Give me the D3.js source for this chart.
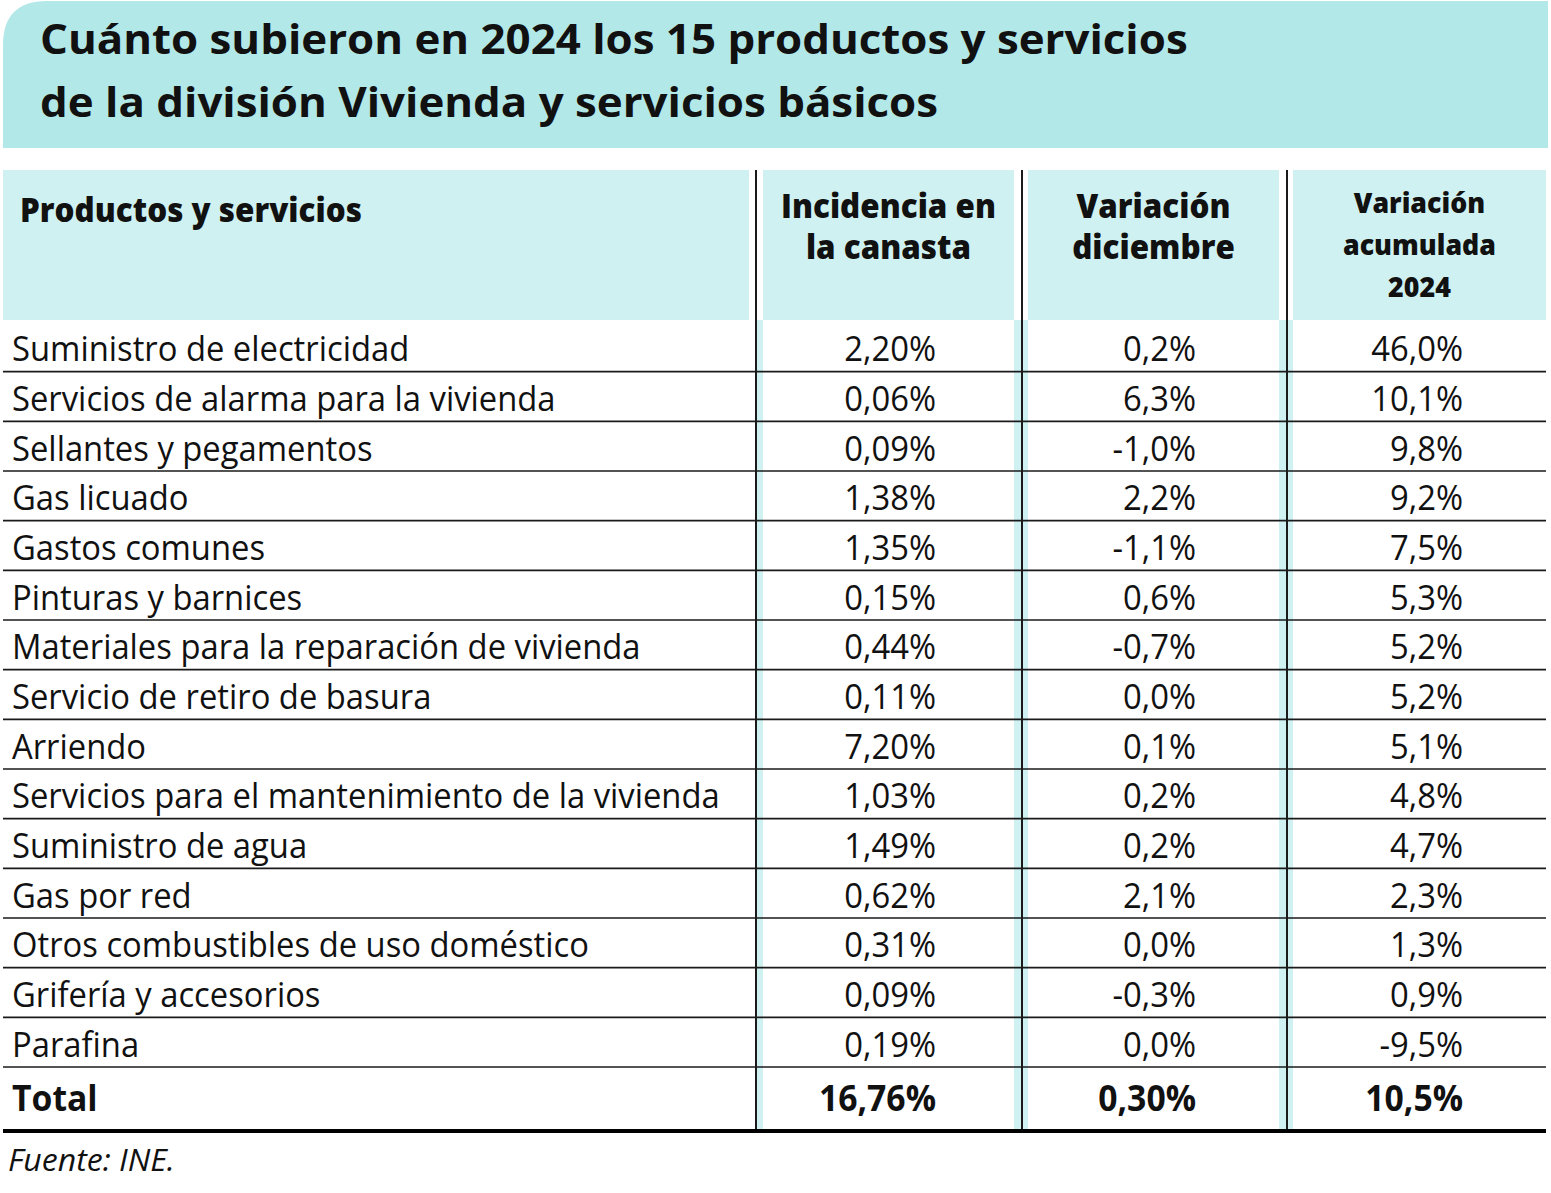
<!DOCTYPE html>
<html>
<head>
<meta charset="utf-8">
<script src="https://cdn.jsdelivr.net/npm/d3@7"></script>
<style>
  html, body { margin: 0; padding: 0; background: #fff; }
  svg { display: block; }
</style>
</head>
<body>
<div id="chart"></div>
<script>
// ---- data ----
const titleLines = [
  'Cuánto subieron en 2024 los 15 productos y servicios',
  'de la división Vivienda y servicios básicos'
]
const headers = [
  ['Productos y servicios'],
  ['Incidencia en', 'la canasta'],
  ['Variación', 'diciembre'],
  ['Variación', 'acumulada', '2024']
]
const products = [
  'Suministro de electricidad',
  'Servicios de alarma para la vivienda',
  'Sellantes y pegamentos',
  'Gas licuado',
  'Gastos comunes',
  'Pinturas y barnices',
  'Materiales para la reparación de vivienda',
  'Servicio de retiro de basura',
  'Arriendo',
  'Servicios para el mantenimiento de la vivienda',
  'Suministro de agua',
  'Gas por red',
  'Otros combustibles de uso doméstico',
  'Grifería y accesorios',
  'Parafina'
]
const incidencia = [2.20, 0.06, 0.09, 1.38, 1.35, 0.15, 0.44, 0.11, 7.20, 1.03, 1.49, 0.62, 0.31, 0.09, 0.19]
const variacionDic = [0.2, 6.3, -1.0, 2.2, -1.1, 0.6, -0.7, 0.0, 0.1, 0.2, 0.2, 2.1, 0.0, -0.3, 0.0]
const variacionAcum = [46.0, 10.1, 9.8, 9.2, 7.5, 5.3, 5.2, 5.2, 5.1, 4.8, 4.7, 2.3, 1.3, 0.9, -9.5]
const totalLabel = 'Total'
const totals = [16.76, 0.30, 10.5]
const source = 'Fuente: INE.'

// ---- layout ----
const W = 1551
const H = 1193
const TITLE_BG = '#b3e8e8'
const HEAD_BG = '#d0f1f1'
const INK = '#111'
const FONT = "'Open Sans', 'Noto Sans', sans-serif"

const es = d3.formatLocale({
  decimal: ',', thousands: '.', grouping: [3],
  currency: ['$', ''], minus: '-', percent: '%'
})
const fmt2 = es.format('.2%')
const fmt1 = es.format('.1%')

// column geometry: header cell extents and separator lines
const cols = [
  { x0: 3, x1: 749 },
  { x0: 763, x1: 1014, right: 936 },
  { x0: 1028, x1: 1279, right: 1196 },
  { x0: 1293, x1: 1546, right: 1463 }
]
const sepX = [756, 1022, 1287]
const strips = [[757, 763], [1014, 1028], [1279, 1293]]

const tableTop = 170
const headBottom = 320
const bodyTop = 322
const bodyBottom = 1067
const totalBottom = 1129

const y = d3.scaleBand()
  .domain(d3.range(products.length))
  .range([bodyTop, bodyBottom])
  .paddingInner(0)

const svg = d3.select('#chart')
  .append('svg')
  .attr('width', W)
  .attr('height', H)
  .style('font-family', FONT)

// helper: text drawn at origin inside a horizontally-condensed transform
function addText(parent, str, x, yy, opts) {
  const t = parent.append('text')
    .attr('transform', `translate(${x},${yy}) scale(${opts.k || 1},1)`)
    .attr('font-size', opts.size)
    .attr('font-weight', opts.weight || 400)
    .attr('font-style', opts.style || 'normal')
    .attr('text-anchor', opts.anchor || 'start')
    .attr('fill', INK)
  if (Array.isArray(str)) {
    t.selectAll('tspan')
      .data(str)
      .join('tspan')
      .attr('x', 0)
      .attr('dy', (d, i) => (i === 0 ? 0 : opts.lead))
      .text(d => d)
  } else {
    t.text(str)
  }
  return t
}
function measure(str, size, weight, style) {
  const t = svg.append('text')
    .attr('font-size', size)
    .attr('font-weight', weight)
    .attr('font-style', style || 'normal')
    .text(str)
  const w = t.node().getComputedTextLength()
  t.remove()
  return w
}

// condense factors (fit the reference's narrower typeface)
const BODY_SIZE = 35
const kBody = 708 / measure(products[9], BODY_SIZE, 400)
const TITLE_SIZE = 42
const kTitle = 1148 / measure(titleLines[0], TITLE_SIZE, 700)
const HEAD_SIZE = 34
const HEAD_WEIGHT = 800
const kHead = 342 / measure(headers[0][0], HEAD_SIZE, HEAD_WEIGHT)

// ---- title block ----
const r = 44
const tx0 = 3, tx1 = 1548, ty0 = 1, ty1 = 148
svg.append('path')
  .attr('d', `M${tx0},${ty1} L${tx0},${ty0 + r} Q${tx0},${ty0} ${tx0 + r},${ty0} L${tx1},${ty0} L${tx1},${ty1} Z`)
  .attr('fill', TITLE_BG)

titleLines.forEach((line, i) => {
  addText(svg, line, 40, 54 + i * 63, { size: TITLE_SIZE, weight: 700, k: kTitle })
})

// ---- header ----
const head = svg.append('g').attr('class', 'header')
head.selectAll('rect')
  .data(cols)
  .join('rect')
  .attr('x', d => d.x0)
  .attr('y', tableTop)
  .attr('width', d => d.x1 - d.x0)
  .attr('height', headBottom - tableTop)
  .attr('fill', HEAD_BG)

addText(head, headers[0][0], 20, 222, { size: HEAD_SIZE, weight: HEAD_WEIGHT, k: kHead })
addText(head, headers[1], (cols[1].x0 + cols[1].x1) / 2, 218,
  { size: HEAD_SIZE, weight: HEAD_WEIGHT, k: kHead, anchor: 'middle', lead: 41 })
addText(head, headers[2], (cols[2].x0 + cols[2].x1) / 2, 218,
  { size: HEAD_SIZE, weight: HEAD_WEIGHT, k: kHead, anchor: 'middle', lead: 41 })
addText(head, headers[3], (cols[3].x0 + cols[3].x1) / 2, 213,
  { size: 29, weight: HEAD_WEIGHT, k: kHead, anchor: 'middle', lead: 42 })

// ---- body ----
const body = svg.append('g').attr('class', 'body')

// light cyan strips beside separators
body.selectAll('rect.strip')
  .data(strips)
  .join('rect')
  .attr('class', 'strip')
  .attr('x', d => d[0])
  .attr('y', headBottom)
  .attr('width', d => d[1] - d[0])
  .attr('height', totalBottom - headBottom)
  .attr('fill', HEAD_BG)

const rows = body.selectAll('g.row')
  .data(products.map((p, i) => ({ i, p, a: incidencia[i], b: variacionDic[i], c: variacionAcum[i] })))
  .join('g')
  .attr('class', 'row')

rows.each(function(d) {
  const g = d3.select(this)
  const base = y(d.i) + y.bandwidth() / 2 + 14.5
  addText(g, d.p, 12, base, { size: BODY_SIZE, k: kBody })
  addText(g, fmt2(d.a / 100), cols[1].right, base, { size: BODY_SIZE, k: kBody, anchor: 'end' })
  addText(g, fmt1(d.b / 100), cols[2].right, base, { size: BODY_SIZE, k: kBody, anchor: 'end' })
  addText(g, fmt1(d.c / 100), cols[3].right, base, { size: BODY_SIZE, k: kBody, anchor: 'end' })
})

// row rules
body.selectAll('line.rule')
  .data(d3.range(products.length))
  .join('line')
  .attr('class', 'rule')
  .attr('x1', 3)
  .attr('x2', 1546)
  .attr('y1', d => y(d) + y.bandwidth())
  .attr('y2', d => y(d) + y.bandwidth())
  .attr('stroke', '#1a1a1a')
  .attr('stroke-width', 1.6)

// total row
const totBase = (bodyBottom + totalBottom) / 2 + 13
addText(body, totalLabel, 12, totBase, { size: 36, weight: 700, k: kBody })
addText(body, fmt2(totals[0] / 100), cols[1].right, totBase, { size: 36, weight: 700, k: kBody, anchor: 'end' })
addText(body, fmt2(totals[1] / 100), cols[2].right, totBase, { size: 36, weight: 700, k: kBody, anchor: 'end' })
addText(body, fmt1(totals[2] / 100), cols[3].right, totBase, { size: 36, weight: 700, k: kBody, anchor: 'end' })

body.append('line')
  .attr('x1', 3)
  .attr('x2', 1546)
  .attr('y1', totalBottom + 2)
  .attr('y2', totalBottom + 2)
  .attr('stroke', '#000')
  .attr('stroke-width', 4)

// column separators
svg.selectAll('line.sep')
  .data(sepX)
  .join('line')
  .attr('class', 'sep')
  .attr('x1', d => d)
  .attr('x2', d => d)
  .attr('y1', tableTop)
  .attr('y2', totalBottom)
  .attr('stroke', '#1a1a1a')
  .attr('stroke-width', 2)

// source
const kSrc = 167 / measure(source, 31, 400, 'italic')
addText(svg, source, 8, 1171, { size: 31, style: 'italic', k: kSrc })
</script>
</body>
</html>
